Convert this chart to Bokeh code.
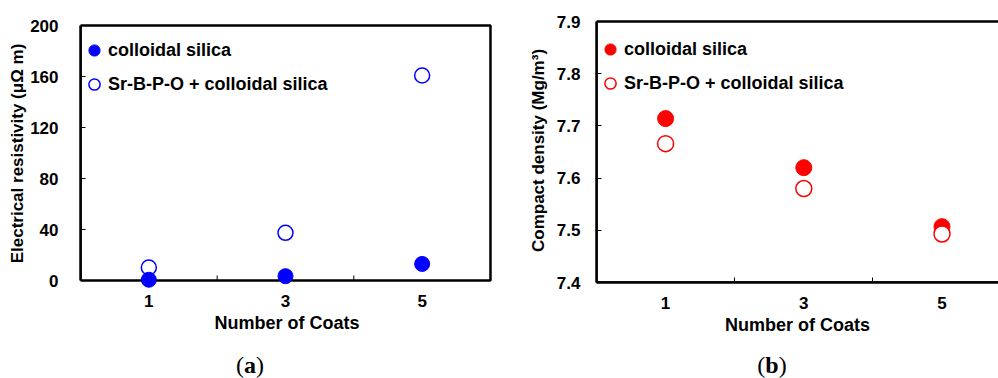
from bokeh.plotting import figure
from bokeh.layouts import row, column
from bokeh.models import Range1d, FixedTicker, Legend, LegendItem, BoxAnnotation, Div, Spacer
from bokeh.embed import file_html
from bokeh.resources import INLINE

# Number of coats on the x axis
coats = [1, 3, 5]
coat_minor_ticks = [2, 4]

# Electrical resistivity (µΩ m)
resist_silica = [0.6, 3.4, 13.0]
resist_srbpo = [10.2, 37.4, 160.8]
resist_ticks = [0, 40, 80, 120, 160, 200]

# Compact density (Mg/m3)
density_silica = [7.714, 7.620, 7.507]
density_srbpo = [7.666, 7.580, 7.493]
density_ticks = [7.4, 7.5, 7.6, 7.7, 7.8, 7.9]

series_names = ["colloidal silica", "Sr-B-P-O + colloidal silica"]

FONT = "Liberation Sans"
LW = 2.5
TOP = 18
FIG_H = 350


def style_axes(p, y_ticks, y_title, y_standoff, y_title_standoff, x_standoff):
    x_axis, y_axis = p.xaxis[0], p.yaxis[0]
    x_axis.ticker = FixedTicker(ticks=coats, minor_ticks=coat_minor_ticks)
    x_axis.major_tick_in = 0
    x_axis.major_tick_out = 0
    x_axis.minor_tick_in = 5
    x_axis.minor_tick_out = 0
    x_axis.minor_tick_line_width = 1
    x_axis.axis_label = "Number of Coats"
    x_axis.major_label_standoff = x_standoff
    x_axis.axis_label_standoff = 3

    y_axis.ticker = FixedTicker(ticks=y_ticks)
    y_axis.bounds = (y_ticks[0], y_ticks[-1])
    y_axis.major_tick_in = 5
    y_axis.major_tick_out = 0
    y_axis.minor_tick_in = 0
    y_axis.minor_tick_out = 0
    y_axis.axis_label = y_title
    y_axis.major_label_standoff = y_standoff
    y_axis.axis_label_standoff = y_title_standoff

    for ax in (x_axis, y_axis):
        ax.axis_line_width = LW
        ax.axis_line_color = "black"
        ax.major_tick_line_color = "black"
        ax.minor_tick_line_color = "black"
        ax.major_label_text_font = FONT
        ax.major_label_text_font_style = "bold"
        ax.major_label_text_font_size = "17px"
        ax.major_label_text_color = "black"
        ax.axis_label_text_font = FONT
        ax.axis_label_text_font_style = "bold"
        ax.axis_label_text_font_size = "17px"
        ax.axis_label_text_color = "black"
    x_axis.axis_label_text_font_size = "18px"

    p.grid.visible = False
    p.outline_line_color = None


def add_box(p, left, right, bottom, top):
    p.add_layout(BoxAnnotation(left=left, right=right, bottom=bottom, top=top,
                               fill_alpha=0, line_color="black", line_width=LW,
                               line_alpha=1, level="underlay"))


def add_legend(p, r_filled, r_open, pad, standoff, y_loc):
    legend = Legend(
        items=[LegendItem(label=series_names[0], renderers=[r_filled]),
               LegendItem(label=series_names[1], renderers=[r_open])],
        location=(0, y_loc),
        margin=0,
        padding=pad,
        spacing=6,
        glyph_width=28,
        glyph_height=28,
        label_standoff=standoff,
        label_text_font=FONT,
        label_text_font_style="bold",
        label_text_font_size="18px",
        label_text_color="black",
        border_line_color=None,
        background_fill_alpha=0,
    )
    p.add_layout(legend)


def caption(letter, width):
    return Div(
        text=f"(<b>{letter}</b>)",
        width=width, height=26, margin=(2, 0, 0, 0),
        styles={"font-family": "'Liberation Serif', serif", "font-size": "24px",
                "line-height": "26px", "text-align": "center", "color": "black"},
    )


# ---- (a) electrical resistivity ----
px_a = 255 / 200          # pixels per µΩ m
fw_a = 413
fh_a = 270                # frame reaches 8 px below zero so the markers there stay whole
pa = figure(title=None, frame_width=fw_a, frame_height=fh_a,
            min_border_left=80, min_border_right=7, min_border_top=TOP,
            min_border_bottom=FIG_H - TOP - fh_a,
            x_range=Range1d(0, fw_a / 68.33),
            y_range=Range1d(-8 / px_a, 200 + 7 / px_a),
            output_backend="svg", toolbar_location=None)
style_axes(pa, resist_ticks, "Electrical resistivity (\u03bc\u03a9 m)", 22, 0, 6)
# zero line carries the x frame edge; the axis itself only holds the labels
pa.xaxis.axis_line_color = None
pa.xaxis.minor_tick_in = 0
add_box(pa, 0, 6, resist_ticks[0], resist_ticks[-1])
pa.segment(x0=coat_minor_ticks, y0=[0, 0], x1=coat_minor_ticks, y1=[5 / px_a] * 2,
           line_color="black", line_width=1)

ra2 = pa.scatter(coats, resist_srbpo, size=15, marker="circle",
                 fill_color="white", line_color="#0000ff", line_width=1.5)
ra1 = pa.scatter(coats, resist_silica, size=15, marker="circle",
                 fill_color="#0000ff", line_color="#0000ff")
legend_h_a = 2 * 28 + 6 + 2 * 5
add_legend(pa, ra1, ra2, 5, -5, fh_a - 8 - legend_h_a)

# ---- (b) compact density ----
px_b = 261 / 0.5          # pixels per Mg/m3
fw_b = 402
fh_b = 264
x_end_b = fw_b / 69.1
pb = figure(title=None, frame_width=fw_b, frame_height=fh_b,
            min_border_left=96, min_border_right=0, min_border_top=TOP,
            min_border_bottom=FIG_H - TOP - fh_b,
            x_range=Range1d(0, x_end_b), y_range=Range1d(7.4, 7.4 + fh_b / px_b),
            output_backend="svg", toolbar_location=None)
style_axes(pb, density_ticks, "Compact density (Mg/m\u00b3)", 16, 6, 14)
# frame runs past the right side of the page
add_box(pb, 0, 2 * x_end_b, density_ticks[0], density_ticks[-1])

rb1 = pb.scatter(coats, density_silica, size=16, marker="circle",
                 fill_color="#ff0000", line_color="#ff0000")
rb2 = pb.scatter(coats, density_srbpo, size=16, marker="circle",
                 fill_color="white", line_color="#ff0000", line_width=1.5)
legend_h_b = 2 * 28 + 6 + 2 * 7
add_legend(pb, rb1, rb2, 7, -4, fh_b - 3 - legend_h_b)

layout = column(
    row(pa, pb, spacing=0),
    row(caption("a", 500), Spacer(width=46, height=28), caption("b", 452), spacing=0),
    spacing=0,
)
open("out.html", "w").write(file_html(layout, INLINE))
